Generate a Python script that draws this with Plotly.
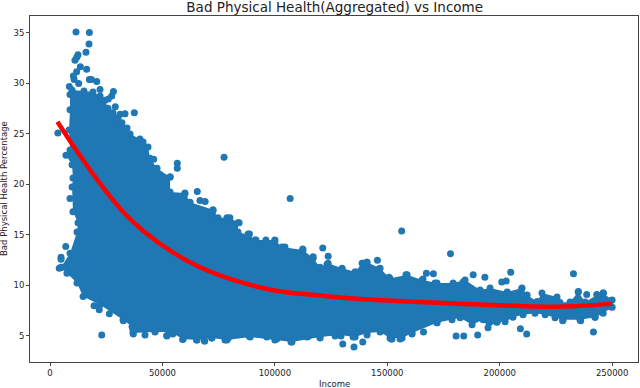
import plotly.graph_objects as go

# Outline of the dense cloud (upper edge, then lower edge)
edge_income = [8900, 9800, 15100, 19100, 22250, 24450, 25800, 28000, 30250, 32000, 34250, 35600, 40000, 41400, 43600,
               44500, 47600, 53400, 53400, 60000, 62300, 72500, 74700, 80000, 83600, 83600, 88100, 91600, 100000,
               103200, 112500, 117000, 120100, 123700, 129900, 135700, 138800, 141000, 146800, 151200, 158800,
               165500, 172100, 179300, 184600, 191300, 195700, 203300, 209900, 212200, 216600, 218800, 225500,
               226800, 231300, 234900, 238000, 243300, 246000, 250000, 250000,
               246000, 242400, 235700, 228200, 224600, 220200, 215700, 210400, 205900, 202400, 198800, 194800,
               192600, 187700, 182400, 172100, 161000, 156600, 151200, 146800, 141000, 135700, 129000, 120100,
               107600, 100000, 89000, 78700, 72000, 65400, 59200, 53400, 46700, 36900, 36500, 32500, 22250, 14700,
               12000, 7550, 4900, 8900, 12000, 12450, 10200, 9800, 10200, 9800, 7100, 8900, 8450, 8900]
edge_pct = [28.9, 29.35, 29.25, 29.15, 28.75, 28.35, 27.55, 27.1, 26.6, 26.1, 25.6, 25.0, 24.5, 24.2, 23.7,
            22.6, 21.6, 20.75, 19.25, 19.15, 18.25, 17.5, 16.7, 16.7, 16.2, 15.3, 15.0, 14.5, 14.5,
            13.8, 13.5, 12.7, 11.8, 12.2, 11.7, 11.35, 12.2, 12.3, 11.7, 10.7, 11.05,
            10.55, 10.25, 10.25, 10.55, 9.55, 9.75, 9.35, 9.75, 9.05, 8.4, 9.25, 8.85,
            8.3, 8.35, 9.35, 8.35, 9.05, 9.25, 8.55, 7.85,
            7.25, 6.85, 6.6, 6.6, 6.8, 7.1, 7.25, 7.1, 6.85, 6.4, 6.4, 5.8,
            6.6, 6.1, 6.8, 6.3, 5.3, 4.8, 4.8, 5.4, 5.3, 4.9, 5.1, 4.9,
            4.4, 4.6, 4.9, 4.6, 4.8, 4.6, 4.7, 5.4, 5.4, 5.3, 5.9, 6.6, 8.1, 8.9,
            10.25, 11.2, 11.8, 13.2, 15.3, 16.2, 17.3, 19.75, 20.65, 21.95, 22.9, 23.4, 25.4, 27.4]

# Individually visible points outside the cloud
outlier_income = [11560, 17500, 17350, 16000, 12450, 11900, 11100, 13500, 16300, 11850, 10400, 10700, 17500, 18400,
                  20800, 12750, 8600, 22250, 28200, 27450, 25950, 29050, 37500, 33350, 31150,
                  3500, 77400, 56600, 56600, 46100, 65500, 106800, 8900,
                  7000, 4900, 4900, 4100, 5650,
                  23000, 26400, 21900, 19600, 32600, 37050, 42250, 46700, 51900, 59000, 65200, 68800, 107200,
                  66700, 69000, 71200, 79300, 84100, 88700, 96000, 100000, 112400,
                  156400, 121300, 123700, 178100, 140900, 145600, 167400, 170500, 188200, 193400, 204900, 200900,
                  202900, 209800, 232800, 235000, 238700, 243200, 246100, 249600, 249300,
                  241700, 212000, 209200, 190200, 184000, 180600, 135200, 130200, 139100, 236000, 228000, 198700,
                  166100, 151800, 155700,
                  # lumps along the rim of the cloud
                  65200, 68700, 71900, 77800, 79300, 83700, 88500, 96400, 100800, 114800, 120100, 126800, 54600,
                  36900, 52000, 53400, 60000, 72500, 78700, 88100, 91200, 104500, 108100,
                  117000, 123200, 129900, 139200, 142300, 145900, 150800, 158300, 165900, 171200, 179300, 183700,
                  114300, 129400, 134800, 141000, 152100, 161000, 172100, 178800, 198800, 242400]
outlier_pct = [35.1, 35.05, 33.9, 33.1, 32.85, 32.6, 32.3, 31.65, 31.4, 31.15, 30.75, 30.4, 30.4, 30.4,
               30.2, 30.0, 29.7, 29.4, 29.2, 28.75, 28.45, 27.7, 27.1, 27.0, 26.95,
               25.1, 22.7, 22.1, 21.6, 22.5, 19.3, 18.6, 18.6,
               13.85, 12.8, 12.6, 11.7, 11.8,
               5.1, 7.2, 7.6, 8.0, 6.5, 5.2, 5.1, 5.5, 5.05, 4.65, 4.65, 4.5, 4.4,
               18.4, 18.3, 16.8, 16.6, 16.2, 15.1, 14.5, 14.45, 13.6,
               15.4, 13.7, 12.9, 13.15, 12.3, 12.5, 11.2, 11.15, 11.05, 10.8, 11.3, 10.35,
               10.45, 9.7, 11.15, 9.4, 9.1, 9.1, 9.25, 8.5, 7.9,
               5.4, 5.2, 5.7, 5.1, 5.0, 5.0, 3.9, 4.2, 4.4, 6.5, 6.5, 6.35,
               5.4, 4.7, 4.7,
               4.6, 4.5, 4.8, 4.6, 4.8, 5.2, 5.0, 4.9, 4.7, 4.95, 4.8, 5.0, 5.2,
               5.6, 5.0, 20.75, 19.05, 17.4, 16.7, 15.1, 14.5, 13.8, 13.1,
               12.85, 12.1, 11.6, 12.2, 11.5, 11.6, 10.8, 11.05, 10.65, 10.25, 10.15, 10.35,
               4.9, 5.0, 4.9, 5.1, 4.7, 5.2, 6.3, 6.6, 6.4, 6.85]

# Fitted red curve
fit_income = [3300, 8900, 14800, 19100, 25000, 33300, 41500, 54800, 66700, 81500, 100000, 120000, 135000, 150000,
              174800, 200000, 221000, 232700, 250000]
fit_pct = [26.2, 24.3, 22.4, 21.05, 19.3, 17.1, 15.4, 13.25, 11.8, 10.55, 9.5, 9.0, 8.7, 8.5,
           8.25, 8.05, 7.9, 7.93, 8.2]

x_ticks = [0, 50000, 100000, 150000, 200000, 250000]
y_ticks = [5, 10, 15, 20, 25, 30, 35]

BLUE = "#1f77b4"
fig = go.Figure()
fig.add_trace(go.Scatter(x=edge_income, y=edge_pct, mode="markers", fill="toself", fillcolor=BLUE,
                         marker=dict(color=BLUE, size=7), showlegend=False))
fig.add_trace(go.Scatter(x=outlier_income, y=outlier_pct, mode="markers",
                         marker=dict(color=BLUE, size=7), showlegend=False))
fig.add_trace(go.Scatter(x=fit_income, y=fit_pct, mode="lines",
                         line=dict(color="#ff0000", width=4.5, shape="spline", smoothing=1), showlegend=False))

axis_font = dict(family="DejaVu Sans", size=8.5, color="#222222")
fig.update_layout(
    width=640, height=388, autosize=False,
    margin=dict(l=30, r=2, t=16, b=26),
    paper_bgcolor="white", plot_bgcolor="white",
    font=dict(family="DejaVu Sans"),
    title=dict(text="Bad Physical Health(Aggregated) vs Income", x=0.523, xanchor="center",
               y=0.982, yanchor="middle", font=dict(family="DejaVu Sans", size=13.5, color="#222222")),
    xaxis=dict(range=[-8900, 261500], tickvals=x_ticks, ticktext=[str(v) for v in x_ticks], tickfont=axis_font,
               ticks="outside", ticklen=3, tickwidth=1, tickcolor="#444444", showgrid=False, zeroline=False,
               showline=True, linecolor="#444444", linewidth=1, mirror=True, automargin=False),
    yaxis=dict(range=[2.42, 36.68], tickvals=y_ticks, tickfont=axis_font,
               ticks="outside", ticklen=3, tickwidth=1, tickcolor="#444444", showgrid=False, zeroline=False,
               showline=True, linecolor="#444444", linewidth=1, mirror=True, automargin=False),
    annotations=[
        dict(text="Income", xref="paper", yref="paper", x=0.50, y=0, xanchor="center", yanchor="top",
             yshift=-15, showarrow=False, font=axis_font),
        dict(text="Bad Physical Health Percentage", xref="paper", yref="paper", x=0, y=0.5,
             xanchor="center", yanchor="middle", xshift=-26, textangle=-90, showarrow=False, font=axis_font),
    ],
)
fig.write_html("out.html", config={"displayModeBar": False}, post_script="document.body.style.margin='0';")
